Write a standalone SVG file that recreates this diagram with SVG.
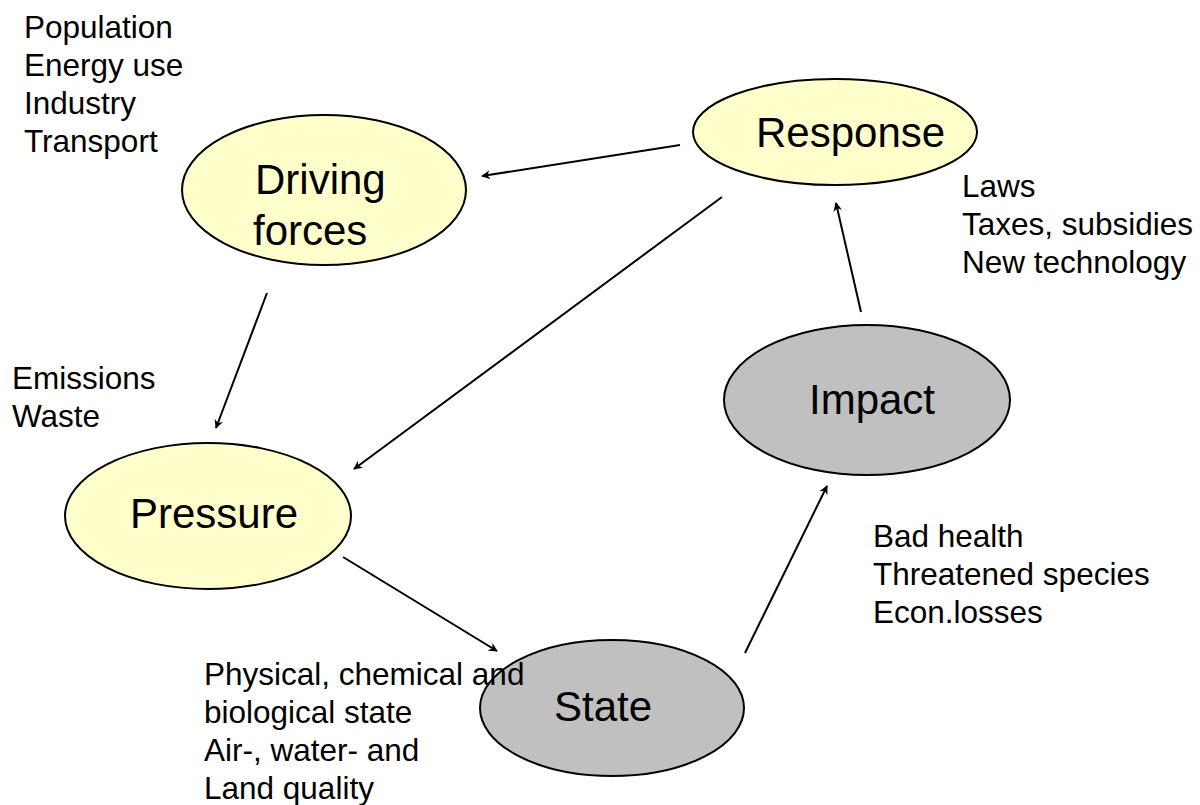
<svg xmlns="http://www.w3.org/2000/svg" width="1200" height="805" viewBox="0 0 1200 805">
<style>
.yel{fill:#FFFFCC;stroke:#000;stroke-width:2}
.gry{fill:#C0C0C0;stroke:#000;stroke-width:2}
.lbl{font-family:"Liberation Sans",Arial,sans-serif;font-size:42px;fill:#000}
.txt{font-family:"Liberation Sans",Arial,sans-serif;font-size:31.5px;fill:#000}
.arr{stroke:#000;stroke-width:2;fill:none;marker-end:url(#ah)}
</style>
<defs>
<marker id="ah" viewBox="0 0 10 10" refX="9" refY="5" markerWidth="9" markerHeight="9" markerUnits="userSpaceOnUse" orient="auto">
<path d="M0,0 L10,5 L0,10 L3,5 Z" fill="#000"/>
</marker>
</defs>
<rect width="1200" height="805" fill="#fff"/>
<g id="connectors">
<line class="arr" x1="680" y1="145" x2="482" y2="176"/>
<line class="arr" x1="267" y1="293" x2="216" y2="428"/>
<line class="arr" x1="722" y1="197" x2="354" y2="469"/>
<line class="arr" x1="343" y1="557" x2="497" y2="651"/>
<line class="arr" x1="745" y1="653" x2="827" y2="486"/>
<line class="arr" x1="861" y1="312" x2="836" y2="203"/>
</g>
<g id="driving">
<ellipse class="yel" cx="324" cy="190" rx="142" ry="75"/>
<text class="lbl" x="255" y="194">Driving</text>
<text class="lbl" x="253" y="245">forces</text>
</g>
<g id="response">
<ellipse class="yel" cx="835" cy="132" rx="142" ry="53"/>
<text class="lbl" x="756" y="147">Response</text>
</g>
<g id="pressure">
<ellipse class="yel" cx="208" cy="516" rx="143" ry="73"/>
<text class="lbl" x="130" y="528">Pressure</text>
</g>
<g id="impact">
<ellipse class="gry" cx="867" cy="400" rx="143" ry="75"/>
<text class="lbl" x="809" y="414">Impact</text>
</g>
<g id="state">
<ellipse class="gry" cx="612" cy="708" rx="132" ry="68"/>
<text class="lbl" x="554" y="721">State</text>
</g>
<g id="driving-notes">
<text class="txt" x="24" y="38">Population</text>
<text class="txt" x="24" y="76">Energy use</text>
<text class="txt" x="24" y="114">Industry</text>
<text class="txt" x="24" y="152">Transport</text>
</g>
<g id="response-notes">
<text class="txt" x="962" y="197">Laws</text>
<text class="txt" x="962" y="235">Taxes, subsidies</text>
<text class="txt" x="962" y="273">New technology</text>
</g>
<g id="pressure-notes">
<text class="txt" x="12" y="389">Emissions</text>
<text class="txt" x="12" y="427">Waste</text>
</g>
<g id="impact-notes">
<text class="txt" x="873" y="547">Bad health</text>
<text class="txt" x="873" y="585">Threatened species</text>
<text class="txt" x="873" y="623">Econ.losses</text>
</g>
<g id="state-notes">
<text class="txt" x="204" y="685">Physical, chemical and</text>
<text class="txt" x="204" y="723">biological state</text>
<text class="txt" x="204" y="761">Air-, water- and</text>
<text class="txt" x="204" y="799">Land quality</text>
</g>
</svg>
